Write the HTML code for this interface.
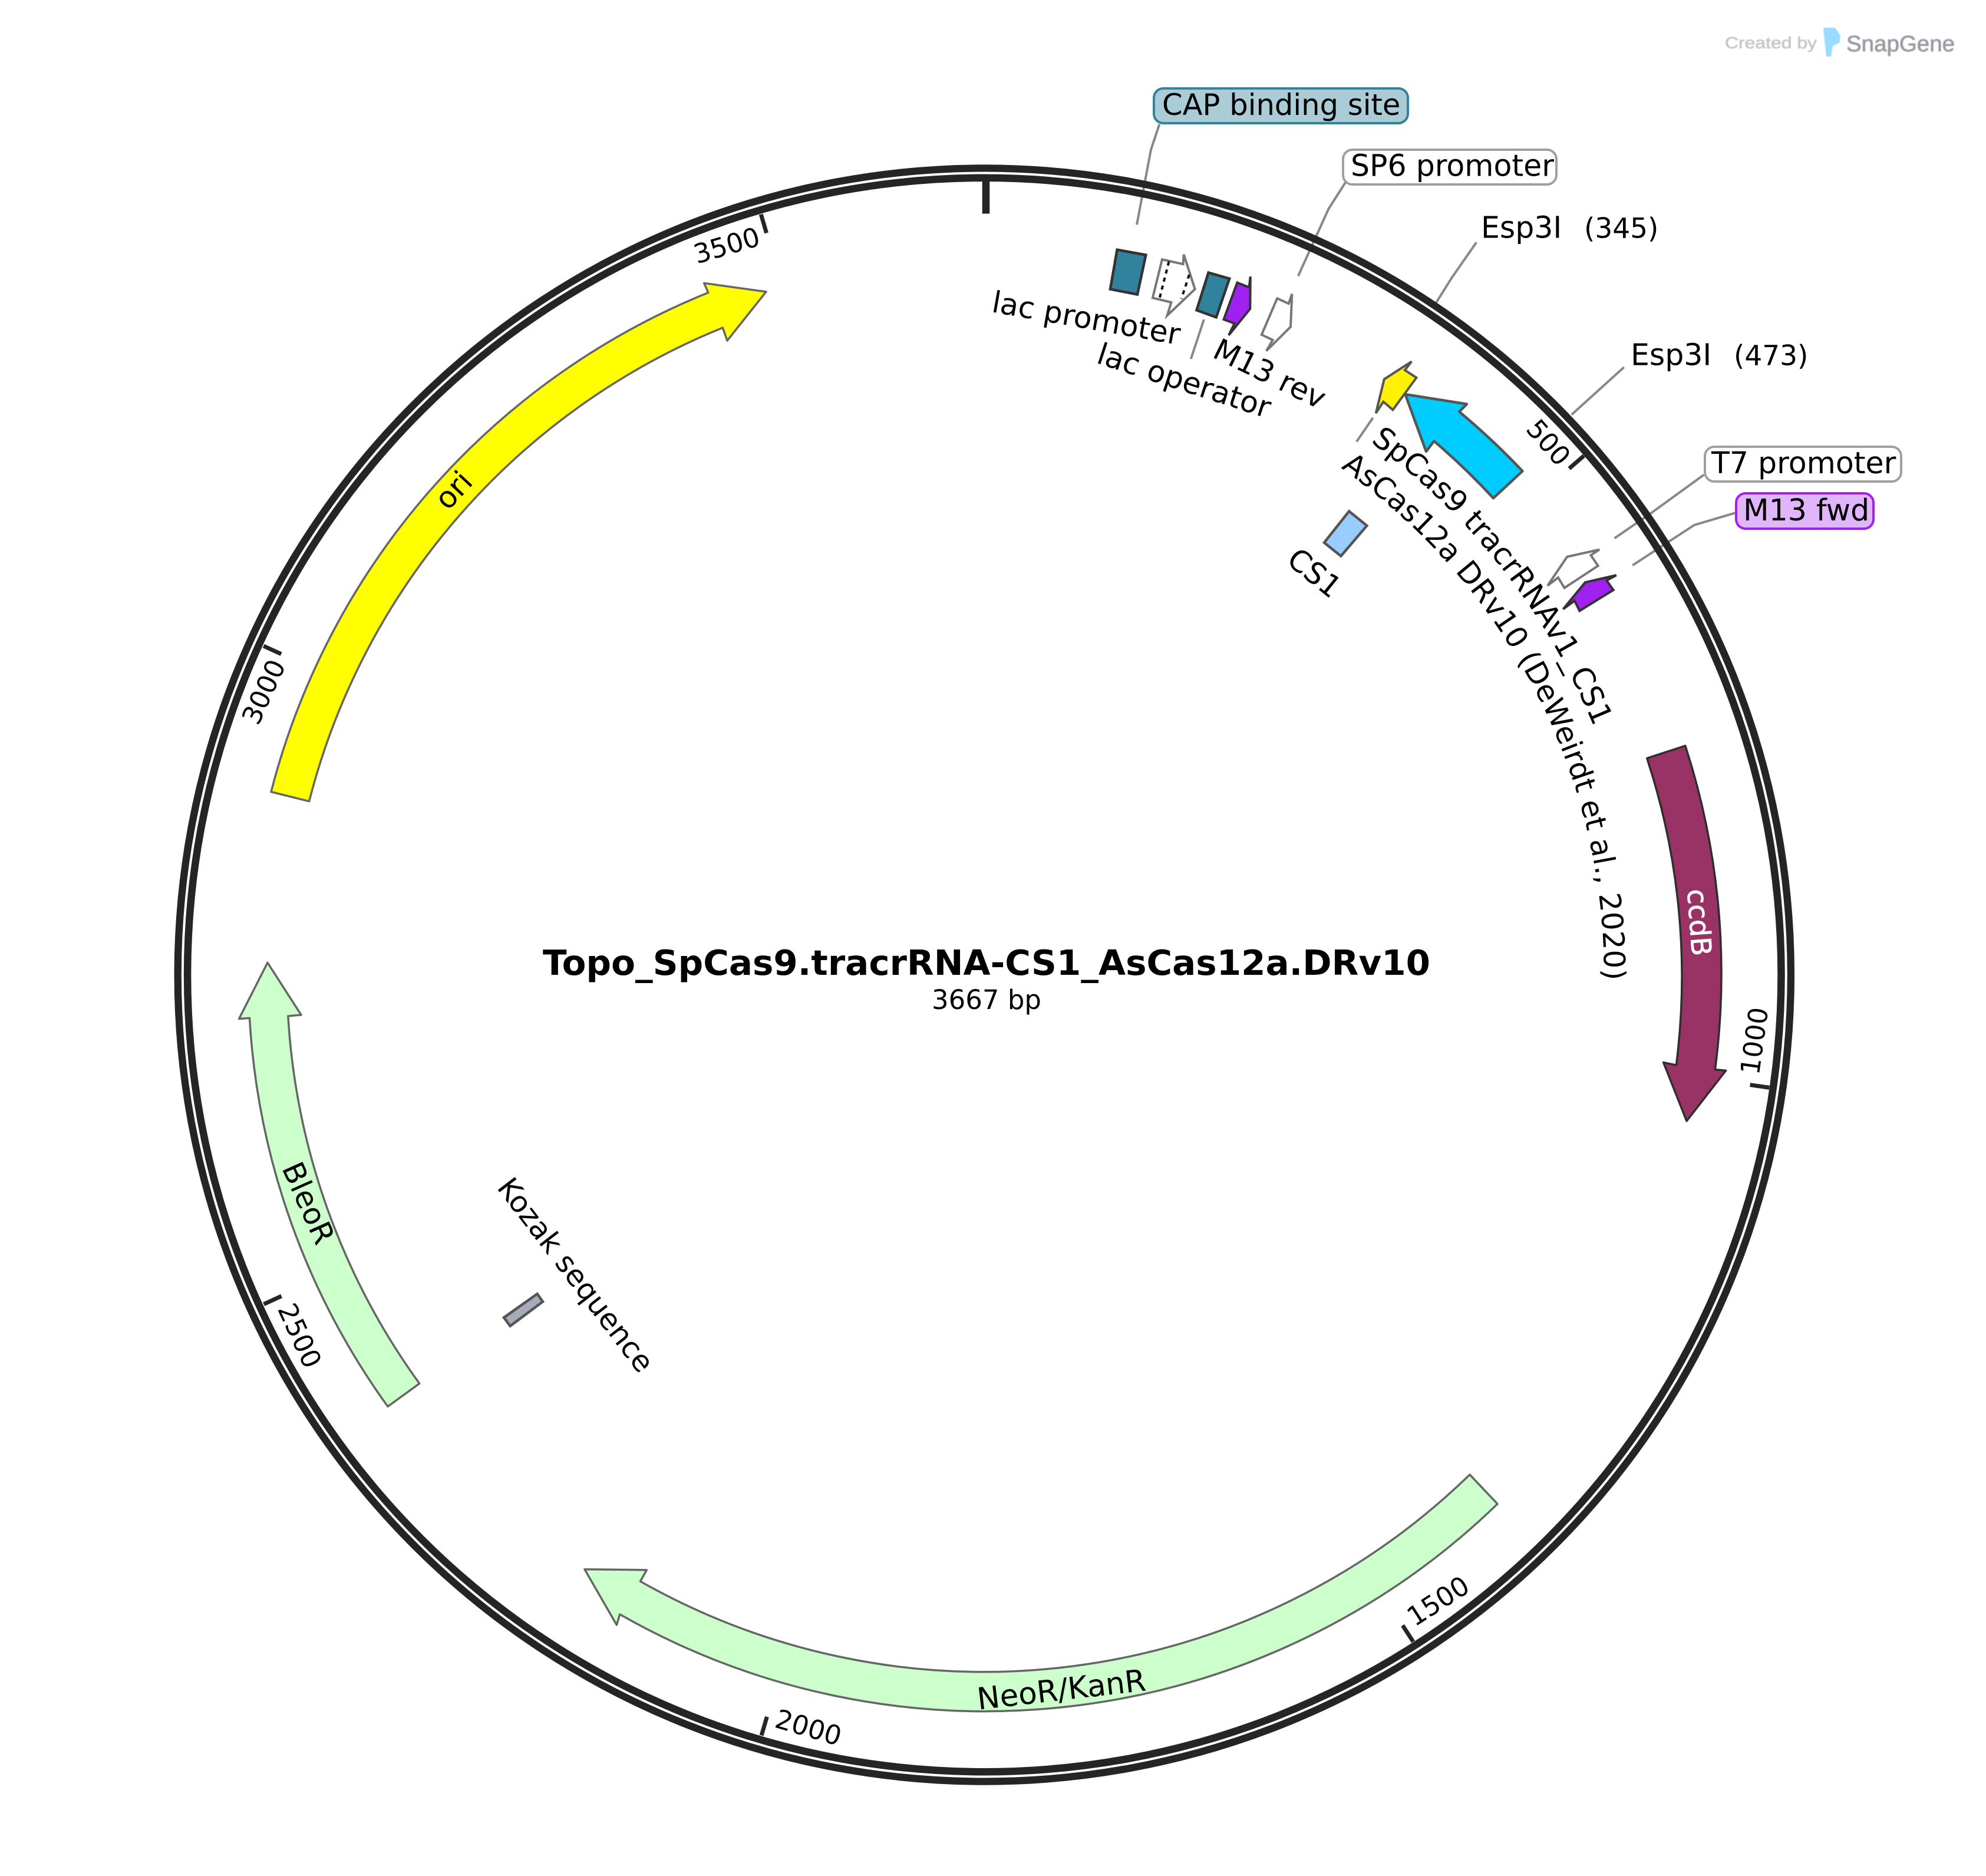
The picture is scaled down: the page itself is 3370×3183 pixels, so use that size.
<!DOCTYPE html>
<html>
<head>
<meta charset="utf-8">
<title>Topo_SpCas9.tracrRNA-CS1_AsCas12a.DRv10</title>
<style>
html,body{margin:0;padding:0;background:#fff;}
svg{display:block;}
text{font-family:"DejaVu Sans","Liberation Sans",sans-serif;fill:#000;white-space:pre;}
.l{font-size:50.5px;}
.t{font-size:45px;text-anchor:middle;}
.c{font-size:50.5px;text-anchor:middle;}
.lead{fill:none;stroke:#888;stroke-width:4;}
.tick{stroke:#252525;stroke-width:7;}
</style>
</head>
<body>
<svg xmlns="http://www.w3.org/2000/svg" width="3370" height="3183" viewBox="0 0 3370 3183">
<rect width="3370" height="3183" fill="#fff"/>
<defs>
<path id="p1" d="M2325.4 750A1116 1116 0 0 1 2770 1460"/>
<path id="p2" d="M2275 793.8A1051 1051 0 0 1 2706 1836.5"/>
</defs>

<!-- logo -->
<g filter="url(#bl)">
<text x="2927" y="82" font-size="28" textLength="156" lengthAdjust="spacingAndGlyphs" style="font-family:'Liberation Sans',sans-serif;fill:#bdbdbd;stroke:#cfcfcf;stroke-width:.8">Created by</text>
<polygon points="3094,47 3114,47 3123,60 3122,72 3110,78 3107,96 3099,96 3095,60" fill="#9adcff"/>
<text x="3133" y="87" font-size="38" textLength="184" lengthAdjust="spacingAndGlyphs" style="font-family:'Liberation Sans',sans-serif;fill:#8f959b;stroke:#a5abb0;stroke-width:1">SnapGene</text>
</g>
<filter id="bl"><feGaussianBlur stdDeviation="0.8"/></filter>

<!-- leader lines -->
<polyline class="lead" points="1967.4,210.7 1953,254 1929,381.3"/>
<polyline class="lead" points="2284.3,307.6 2254.4,354.5 2202.8,468.3"/>
<polyline class="lead" points="2043,542 2020.8,609"/>
<polyline class="lead" points="2329.8,708.7 2301.8,749.5"/>
<polyline class="lead" points="2505.3,411.2 2463,472 2436.5,514.3"/>
<polyline class="lead" points="2755.8,623 2666.7,703.6"/>
<polyline class="lead" points="2891.2,805.6 2802,870.4 2739.6,913.3"/>
<polyline class="lead" points="2943.9,870.4 2875,890.8 2770.2,959.2"/>

<!-- ring -->
<circle cx="1670.3" cy="1654" r="1368.6" fill="none" stroke="#252525" stroke-width="12.3"/>
<circle cx="1670.3" cy="1654" r="1352.2" fill="none" stroke="#252525" stroke-width="12.5"/>

<!-- ticks -->
<line x1="1673" y1="308" x2="1673" y2="362.5" stroke="#252525" stroke-width="12.6"/>
<line class="tick" x1="2687.7" y1="773.4" x2="2662.7" y2="795"/>
<line class="tick" x1="3002.3" y1="1845.4" x2="2969.6" y2="1840.7"/>
<line class="tick" x1="2398" y1="2785.5" x2="2380.1" y2="2757.8"/>
<line class="tick" x1="1292.1" y1="2944.5" x2="1301.4" y2="2912.9"/>
<line class="tick" x1="447.6" y1="2212.8" x2="477.6" y2="2199.1"/>
<line class="tick" x1="447.2" y1="1096" x2="477.2" y2="1109.7"/>
<line class="tick" x1="1291.3" y1="363.7" x2="1300.6" y2="395.4"/>

<!-- tick labels -->
<text class="t" dy=".36em" transform="translate(2628,750.5) rotate(49)">500</text>
<text class="t" dy=".36em" transform="translate(2976.5,1766) rotate(-82)">1000</text>
<text class="t" dy=".36em" transform="translate(2440,2716) rotate(-32.7)">1500</text>
<text class="t" dy=".36em" transform="translate(1372,2930.5) rotate(16.3)">2000</text>
<text class="t" dy=".36em" transform="translate(509,2266) rotate(65.4)">2500</text>
<text class="t" dy=".36em" transform="translate(447,1173.7) rotate(-65.5)">3000</text>
<text class="t" dy=".36em" transform="translate(1233,416) rotate(-16.4)">3500</text>

<!-- large features -->
<path d="M460 1343.5A1250 1250 0 0 1 1201.8 496.5L1194.7 480.4L1300 495L1234 578L1226.3 556A1184 1184 0 0 0 524.6 1359.6Z" fill="#ffff00" stroke="#666" stroke-width="3.5" stroke-linejoin="round"/>
<path d="M2859.7 1265.3A1250 1250 0 0 1 2910.3 1814.7L2928.6 1816.4L2862 1902L2822.6 1802.6L2844.4 1807.2A1183 1183 0 0 0 2794.7 1286.6Z" fill="#993366" stroke="#2e2e2e" stroke-width="3.5" stroke-linejoin="round"/>
<path d="M2541 2551.7A1250 1250 0 0 1 1051.8 2739L1046.4 2757L992 2662.6L1097.4 2663.8L1086.5 2683A1183 1183 0 0 0 2494 2502Z" fill="#ccffcc" stroke="#666" stroke-width="3.5" stroke-linejoin="round"/>
<path d="M658 2386.4A1250 1250 0 0 1 423.5 1727.4L405.6 1728.6L454 1633.3L511 1722L488.8 1724A1183 1183 0 0 0 711.7 2347.4Z" fill="#ccffcc" stroke="#666" stroke-width="3.5" stroke-linejoin="round"/>
<path d="M2583.5 799.3A1250 1250 0 0 0 2476.3 698.6L2489 685.6L2384.5 669L2420 766L2433.4 748.4A1183 1183 0 0 1 2534 845.2Z" fill="#00ccff" stroke="#555" stroke-width="4.5" stroke-linejoin="round"/>

<!-- small features -->
<polygon points="2395.3,613.4 2348.8,643.4 2334.7,701 2347.4,681.6 2363.5,695.4 2403.5,640.8 2383.9,628" fill="#fff200" stroke="#555" stroke-width="4"/>
<polygon points="2289.2,867.4 2319.4,891.9 2275.4,943.5 2247,920.6" fill="#99ccff" stroke="#555" stroke-width="4.5"/>
<polygon points="2742.7,976 2689.9,988 2652.4,1033.5 2671.9,1019.3 2680.3,1036.5 2737.7,1001 2726.2,984.9" fill="#a020f0" stroke="#333" stroke-width="4"/>
<polygon points="2714,932.4 2659.2,944.7 2626,993.7 2644,979.9 2654.6,997.5 2711.7,960 2699.4,942" fill="#fff" stroke="#777" stroke-width="4"/>
<polygon points="1895.6,423.7 1944.4,432.6 1930,499.6 1884,490.6" fill="#31829c" stroke="#333" stroke-width="4.5"/>
<polygon points="1972,440.2 2007.6,448.2 2008.7,431.7 2027.7,490.6 1980.6,535.3 1987.5,513 1955.9,505.4" fill="#fff" stroke="#777" stroke-width="4"/>
<line x1="1983.5" y1="443.8" x2="1967.4" y2="507" stroke="#111" stroke-width="4" stroke-dasharray="7 7"/>
<line x1="2018" y1="466" x2="2004.7" y2="507" stroke="#111" stroke-width="4" stroke-dasharray="7 7"/>
<polygon points="2050.6,462.5 2086.2,472.8 2063.8,538.4 2030.5,526.3" fill="#31829c" stroke="#333" stroke-width="4.5"/>
<polygon points="2121.8,469.2 2119.5,487.5 2099.4,479.5 2076.5,542 2094.8,548.7 2085,568.8 2121.3,524" fill="#a020f0" stroke="#333" stroke-width="4"/>
<polygon points="2192.4,498.7 2186.7,515.2 2167.2,506.3 2140.8,567.9 2159.7,576.8 2148.8,595.5 2190,554.5" fill="#fff" stroke="#777" stroke-width="4"/>
<polygon points="911.7,2195.3 921,2208.5 865.8,2249.8 855,2235.5" fill="#a6adb8" stroke="#555" stroke-width="4.5"/>

<!-- feature labels -->
<text class="c" dy=".36em" style="fill:#fff;font-size:47px;stroke:#fff;stroke-width:.8" transform="translate(2884,1565) rotate(85.8)">ccdB</text>
<text class="c" dy=".36em" style="font-size:51.5px" transform="translate(1801,2866) rotate(-6.5)">NeoR/KanR</text>
<text class="c" dy=".36em" transform="translate(524,2040.9) rotate(66)">BleoR</text>
<text class="c" dy=".28em" transform="translate(772,834) rotate(-47)">ori</text>
<text class="c" dy=".32em" transform="translate(1843,541) rotate(10)">lac promoter</text>
<text class="c" dy=".32em" transform="translate(2009,647) rotate(18)">lac operator</text>
<text class="c" dy=".36em" transform="translate(2155,633.5) rotate(26)">M13 rev</text>
<text class="c" dy=".36em" transform="translate(2231,971.5) rotate(39)">CS1</text>
<text class="c" dy=".32em" style="font-size:49.5px" transform="translate(976,2164) rotate(52.5)">Kozak sequence</text>
<text style="font-size:51px"><textPath href="#p1">SpCas9 tracrRNAv1_CS1</textPath></text>
<text style="font-size:50px"><textPath href="#p2">AsCas12a DRv10 (DeWeirdt et al., 2020)</textPath></text>

<!-- boxed labels -->
<rect x="1958" y="150" width="431" height="59" rx="16" fill="#aaccd6" stroke="#33829e" stroke-width="4"/>
<text x="1972" y="195" style="font-size:49.6px">CAP binding site</text>
<rect x="2279" y="254" width="362" height="59" rx="16" fill="#fff" stroke="#a0a0a0" stroke-width="4"/>
<text class="l" x="2292" y="298.7">SP6 promoter</text>
<rect x="2893" y="758" width="333" height="59" rx="16" fill="#fff" stroke="#a0a0a0" stroke-width="4"/>
<text class="l" x="2904" y="803">T7 promoter</text>
<rect x="2946" y="837" width="233" height="60" rx="16" fill="#e0b5fa" stroke="#a020f0" stroke-width="4"/>
<text class="l" x="2958" y="883">M13 fwd</text>

<!-- enzyme labels -->
<text class="l" x="2513" y="403.6">Esp3I</text>
<text x="2688" y="403.6" font-size="47">(345)</text>
<text class="l" x="2767" y="619.4">Esp3I</text>
<text x="2942" y="619.4" font-size="47">(473)</text>

<!-- title -->
<text x="921" y="1654" font-size="59" font-weight="bold" textLength="1506" lengthAdjust="spacingAndGlyphs">Topo_SpCas9.tracrRNA-CS1_AsCas12a.DRv10</text>
<text x="1674" y="1712" font-size="45" text-anchor="middle">3667 bp</text>
</svg>
</body>
</html>
